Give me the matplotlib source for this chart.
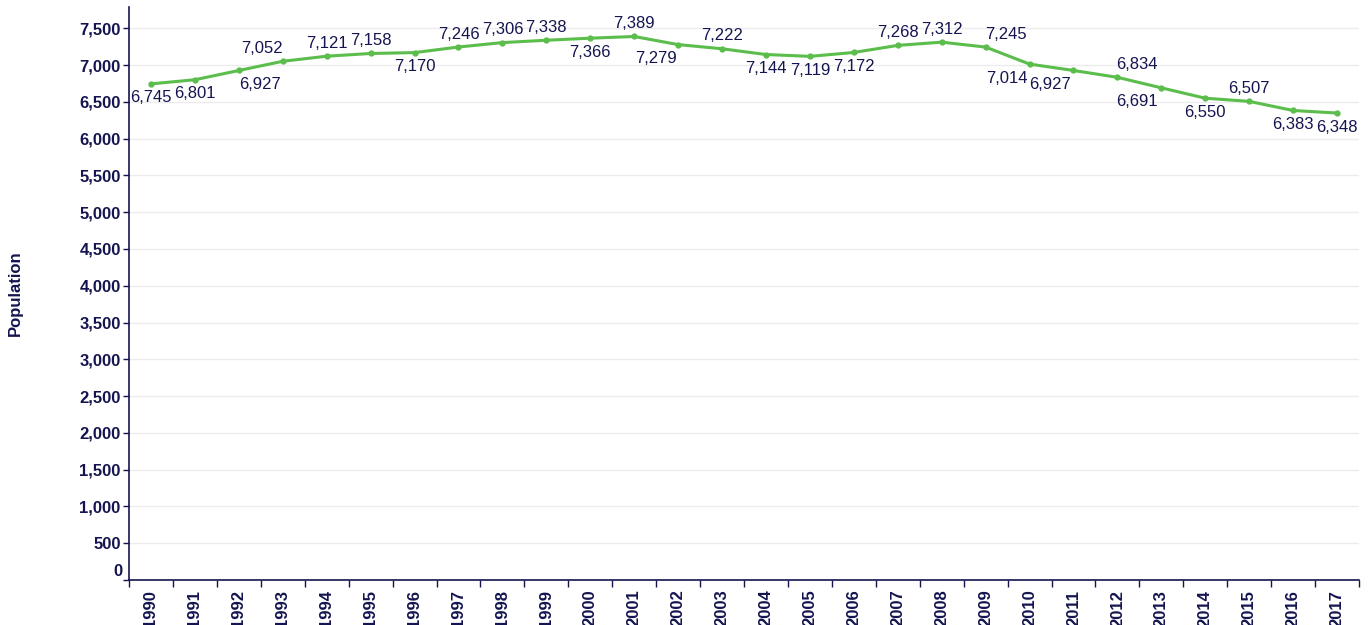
import matplotlib
matplotlib.use("Agg")
import matplotlib.pyplot as plt
from matplotlib.ticker import FuncFormatter, MultipleLocator, FixedLocator

plt.rcParams['font.family'] = ['Liberation Sans', 'DejaVu Sans']

# data
years = [str(y) for y in range(1990, 2018)]
population = [6745, 6801, 6927, 7052, 7121, 7158, 7170, 7246, 7306, 7338,
              7366, 7389, 7279, 7222, 7144, 7119, 7172, 7268, 7312, 7245,
              7014, 6927, 6834, 6691, 6550, 6507, 6383, 6348]

# label layout: which side of the point, and sideways nudge (pixels)
label_below = [1, 1, 1, 0, 0, 0, 1, 0, 0, 0,
               1, 0, 1, 0, 1, 1, 1, 0, 0, 0,
               1, 1, 0, 1, 1, 0, 1, 1]
label_dx = [0, 0, 21, -21, 0, 0, 0, 0, 0, 0,
            0, 0, -22, 0, 0, 0, 0, 0, 0, 20,
            -23, -23, 19, -24, 0, 0, 0, 0]

navy = '#141450'
green = '#5bbd4b'

fig = plt.figure(figsize=(13.7, 6.25), dpi=100)
ax = fig.add_axes([129/1370, 1 - 580/625, 1230/1370, 573/625])

x = list(range(len(years)))
ax.plot(x, population, color=green, lw=2.2, marker='o', ms=3.5, zorder=3)

for xi, v, below, dx in zip(x, population, label_below, label_dx):
    dy = -14 if below else 13
    ax.annotate(f'{v:,}', (xi, v), xytext=(dx, dy), textcoords='offset pixels',
                ha='center', va='center', fontsize=12, color=navy, zorder=4)

ax.set_xlim(-0.5, len(years) - 0.5)
ax.set_ylim(0, 7790)

ax.yaxis.set_major_locator(MultipleLocator(500))
# zero is drawn separately, a little above its tick
ax.yaxis.set_major_formatter(FuncFormatter(lambda v, p: f'{int(v):,}' if v > 0 else ''))
ax.grid(axis='y', color='#ececec', lw=1)
ax.set_axisbelow(True)
ax.annotate('0', (0, 0), xycoords=('axes fraction', 'data'), xytext=(-6, 9),
            textcoords='offset pixels', ha='right', va='center',
            fontsize=12, fontweight='bold', color=navy)

ax.set_xticks(x)
ax.set_xticklabels(years, rotation=90, fontsize=12, fontweight='bold', color=navy)
ax.tick_params(axis='x', length=0, pad=7)
ax.xaxis.set_minor_locator(FixedLocator([i + 0.5 for i in range(-1, len(years))]))
ax.tick_params(axis='x', which='minor', length=5, color=navy, width=1)

ax.tick_params(axis='y', length=4, color=navy, width=1, pad=2,
               labelsize=12, labelcolor=navy)
for lab in ax.get_yticklabels():
    lab.set_fontweight('bold')

for side in ['top', 'right']:
    ax.spines[side].set_visible(False)
for side in ['left', 'bottom']:
    ax.spines[side].set_color(navy)
    ax.spines[side].set_linewidth(1.2)

fig.text(15/1370, 1 - 293/625, 'Population', rotation=90, ha='center', va='center',
         fontsize=12, fontweight='bold', color=navy)

fig.savefig('out.png', dpi=100)
